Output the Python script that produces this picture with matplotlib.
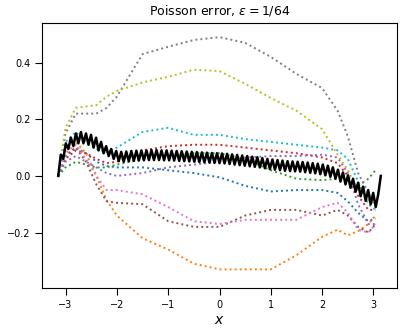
import numpy as np
import matplotlib
matplotlib.use("Agg")
import matplotlib.pyplot as plt

x_err = [-3.14, -3.0, -2.8, -2.6, -2.4, -2.2, -2.0, -1.5, -1.0, -0.5, 0.0,
         0.5, 1.0, 1.5, 2.0, 2.3, 2.5, 2.7, 2.9, 3.04]

err_blue = [0, 0.07, 0.10, 0.08, 0.05, 0.035, 0.03, 0.03, 0.02, 0.01, -0.005,
            -0.035, -0.055, -0.05, -0.05, -0.06, -0.09, -0.13, -0.16, -0.15]
err_orange = [0, 0.09, 0.12, 0.08, 0.0, -0.085, -0.14, -0.22, -0.26, -0.31, -0.33,
              -0.33, -0.33, -0.28, -0.215, -0.19, -0.21, -0.195, -0.17, -0.14]
err_green = [0, 0.03, 0.05, 0.04, 0.03, 0.03, 0.04, 0.06, 0.07, 0.08, 0.08,
             0.06, 0.02, -0.01, -0.015, -0.01, -0.02, -0.035, -0.01, 0.02]
err_red = [0, 0.06, 0.09, 0.08, 0.06, 0.045, 0.05, 0.09, 0.105, 0.11, 0.11,
           0.10, 0.09, 0.08, 0.065, 0.045, 0.0, -0.07, -0.12, -0.12]
err_purple = [0, 0.05, 0.07, 0.05, 0.03, 0.01, 0.0, 0.01, 0.03, 0.04, 0.05,
              0.065, 0.07, 0.07, 0.075, 0.065, 0.01, -0.10, -0.17, -0.17]
err_brown = [0, 0.07, 0.10, 0.05, -0.03, -0.09, -0.095, -0.10, -0.16, -0.18, -0.18,
             -0.14, -0.12, -0.12, -0.14, -0.12, -0.14, -0.18, -0.20, -0.17]
err_pink = [0, 0.08, 0.11, 0.06, 0.0, -0.05, -0.05, -0.065, -0.11, -0.16, -0.17,
            -0.155, -0.155, -0.155, -0.11, -0.095, -0.13, -0.19, -0.20, -0.17]
err_gray = [0, 0.15, 0.22, 0.22, 0.22, 0.24, 0.28, 0.43, 0.456, 0.48, 0.49,
            0.47, 0.42, 0.36, 0.31, 0.23, 0.14, 0.01, -0.06, -0.10]
err_olive = [0, 0.17, 0.24, 0.245, 0.25, 0.28, 0.30, 0.33, 0.35, 0.375, 0.37,
             0.325, 0.275, 0.23, 0.165, 0.075, 0.02, -0.05, -0.085, -0.10]
err_cyan = [0, 0.12, 0.155, 0.12, 0.095, 0.085, 0.10, 0.155, 0.17, 0.145, 0.145,
            0.13, 0.12, 0.11, 0.10, 0.09, 0.06, -0.02, -0.10, -0.12]

curves = [err_blue, err_orange, err_green, err_red, err_purple,
          err_brown, err_pink, err_gray, err_olive, err_cyan]

# black curve: values at its successive peaks / troughs (64 wiggles over [-pi, pi])
black_vals = [
    0.0, 0.075, 0.060, 0.115, 0.095, 0.135, 0.105, 0.150, 0.115,
    0.155, 0.115, 0.150, 0.110, 0.145, 0.100, 0.135, 0.090,
    0.120, 0.080, 0.105, 0.070, 0.095, 0.060, 0.088, 0.052,
    0.085, 0.050, 0.086, 0.052, 0.088, 0.053, 0.089, 0.054,
    0.090, 0.055, 0.090, 0.056, 0.091, 0.056, 0.091, 0.056,
    0.090, 0.055, 0.090, 0.055, 0.089, 0.054, 0.088, 0.053,
    0.087, 0.052, 0.086, 0.051, 0.085, 0.050, 0.084, 0.049,
    0.083, 0.048, 0.082, 0.047, 0.081, 0.046, 0.080, 0.045,
    0.079, 0.044, 0.078, 0.042, 0.076, 0.040, 0.074, 0.038,
    0.072, 0.036, 0.070, 0.034, 0.068, 0.032, 0.066, 0.030,
    0.063, 0.027, 0.060, 0.024, 0.058, 0.022, 0.056, 0.020,
    0.054, 0.018, 0.052, 0.017, 0.051, 0.016, 0.050, 0.015,
    0.049, 0.013, 0.047, 0.011, 0.045, 0.009, 0.043, 0.006,
    0.040, 0.002, 0.036, -0.003, 0.030, -0.010, 0.022, -0.020,
    0.012, -0.030, 0.002, -0.042, -0.010, -0.056, -0.024, -0.072,
    -0.038, -0.088, -0.050, -0.100, -0.060, -0.110, -0.065, 0.0,
]
x_black = np.linspace(-np.pi, np.pi, len(black_vals))

fig = plt.figure(figsize=(4.05, 3.33), dpi=100)
ax = fig.add_axes([0.104, 0.135, 0.876, 0.796])

for i, c in enumerate(curves):
    ax.plot(x_err, c, color=f"C{i}", lw=1.4, ls=(0, (1, 1.6)))
ax.plot(x_black, black_vals, '-', color='k', lw=1.8)

ax.set_title(r"Poisson error, $\varepsilon = 1/64$", fontsize=9)
ax.set_xlabel(r"$x$", fontsize=10, labelpad=2)
ax.set_xticks([-3, -2, -1, 0, 1, 2, 3])
ax.set_yticks([-0.2, 0.0, 0.2, 0.4])
ax.tick_params(labelsize=7, length=5, width=0.8)
ax.set_xlim(-3.456, 3.456)
ax.set_ylim(-0.396, 0.54)

fig.savefig("out.png", dpi=100)
